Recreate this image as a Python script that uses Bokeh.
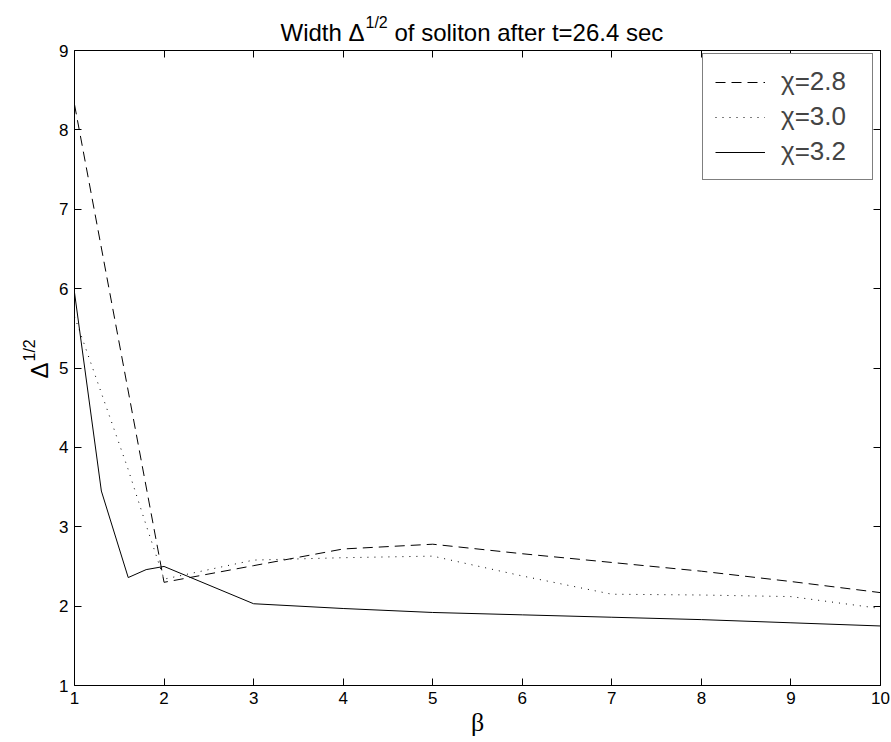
import math

from bokeh.plotting import figure
from bokeh.models import Range1d, LinearAxis, FixedTicker, Label, CustomJSTickFormatter
from bokeh.embed import file_html
from bokeh.resources import INLINE

# soliton width after t = 26.4 s versus beta, for three values of chi
beta_28 = [1, 2, 3, 4, 5, 6, 7, 8, 9, 10]
width_28 = [8.32, 2.30, 2.51, 2.72, 2.78, 2.66, 2.55, 2.44, 2.31, 2.17]

beta_30 = [1, 1.6, 1.8, 2, 3, 4, 5, 6, 7, 8, 9, 10]
width_30 = [5.65, 3.72, 3.02, 2.34, 2.58, 2.61, 2.63, 2.38, 2.15, 2.14, 2.12, 1.97]

beta_32 = [1, 1.3, 1.6, 1.8, 2, 3, 4, 5, 6, 7, 8, 9, 10]
width_32 = [5.95, 3.45, 2.36, 2.46, 2.50, 2.03, 1.97, 1.92, 1.89, 1.86, 1.83, 1.79, 1.75]

x_ticks = [1, 2, 3, 4, 5, 6, 7, 8, 9, 10]
y_ticks = [1, 2, 3, 4, 5, 6, 7, 8, 9]

FONT = "Liberation Sans"

# page size and the pixel box of the axes; the plotting frame spans the
# whole page so that the title and axis captions can sit inside it
W, H = 891, 742
BOX_L, BOX_R, BOX_T, BOX_B = 74, 880, 50, 685
X0, X1, Y0, Y1 = 1, 10, 1, 9
kx = (BOX_R - BOX_L) / (X1 - X0)
ky = (BOX_B - BOX_T) / (Y1 - Y0)

p = figure(width=W, height=H, output_backend="svg", toolbar_location=None,
           x_range=Range1d(X0 - BOX_L / kx, X1 + (W - BOX_R) / kx),
           y_range=Range1d(Y0 - (H - BOX_B) / ky, Y1 + BOX_T / ky),
           x_axis_location=None, y_axis_location=None,
           min_border=0, background_fill_color="white", border_fill_color="white")
p.grid.visible = False
p.outline_line_color = None

blank = CustomJSTickFormatter(code="return ''")
ax_bottom = LinearAxis(ticker=FixedTicker(ticks=x_ticks), fixed_location=Y0, bounds=(X0, X1))
ax_top = LinearAxis(ticker=FixedTicker(ticks=x_ticks), fixed_location=Y1, bounds=(X0, X1),
                    formatter=blank)
ax_left = LinearAxis(ticker=FixedTicker(ticks=y_ticks), fixed_location=X0, bounds=(Y0, Y1))
ax_right = LinearAxis(ticker=FixedTicker(ticks=y_ticks), fixed_location=X1, bounds=(Y0, Y1),
                      formatter=blank)
p.add_layout(ax_bottom, "below")
p.add_layout(ax_top, "above")
p.add_layout(ax_left, "left")
p.add_layout(ax_right, "right")

for ax in (ax_bottom, ax_top, ax_left, ax_right):
    ax.axis_line_color = "black"
    ax.axis_line_width = 1
    ax.major_tick_line_color = "black"
    ax.major_tick_in = 7
    ax.major_tick_out = 0
    ax.minor_tick_line_color = None
    ax.major_label_text_font = FONT
    ax.major_label_text_font_size = "17px"
    ax.major_label_text_color = "black"
    ax.major_label_standoff = 6

p.line(beta_28, width_28, line_color="black", line_width=1, line_dash="10 6",
       legend_label="χ=2.8")
p.line(beta_30, width_30, line_color="black", line_width=1, line_dash="1 6",
       legend_label="χ=3.0")
p.line(beta_32, width_32, line_color="black", line_width=1,
       legend_label="χ=3.2")

# legend box, placed by its bottom-left corner
LEG_PAD, ITEM_H, ITEM_GAP = 12, 30, 4
leg_h = 2 * LEG_PAD + 3 * ITEM_H + 2 * ITEM_GAP
leg_left, leg_top = 702, 58
lg = p.legend[0]
lg.location = (leg_left, H - (leg_top + leg_h))
lg.margin = 0
lg.padding = LEG_PAD
lg.spacing = ITEM_GAP
lg.glyph_width = 50
lg.glyph_height = ITEM_H
lg.label_height = ITEM_H
lg.label_width = 79
lg.label_standoff = 16
lg.label_text_font = FONT
lg.label_text_font_size = "26px"
lg.label_text_baseline = "middle"
lg.border_line_color = "black"
lg.border_line_width = 1
lg.background_fill_color = "white"
lg.background_fill_alpha = 1


def text_at(cx, cy, text, size, angle=0.0, align="left", baseline="alphabetic", font=FONT):
    """Place text at page pixel (cx, cy), measured from the top-left corner."""
    p.add_layout(Label(x=cx, y=H - cy, x_units="screen", y_units="screen", text=text,
                       text_font=font, text_font_size=size, text_color="black",
                       text_align=align, text_baseline=baseline, angle=angle))


# title: Width Δ^(1/2) of soliton after t=26.4 sec
text_at(280, 32, "Width Δ", "24px")
text_at(365, 22, "1/2", "16px")
text_at(394, 32, "of soliton after t=26.4 sec", "24px")

# y caption Δ^(1/2), reading upwards
text_at(39, 378, "Δ", "24px", angle=math.pi / 2)
text_at(29, 361, "1/2", "16px", angle=math.pi / 2)

# x caption
text_at(477, 722, "β", "26px", align="center", baseline="middle", font="Liberation Serif")

open("out.html", "w").write(file_html(p, INLINE))
